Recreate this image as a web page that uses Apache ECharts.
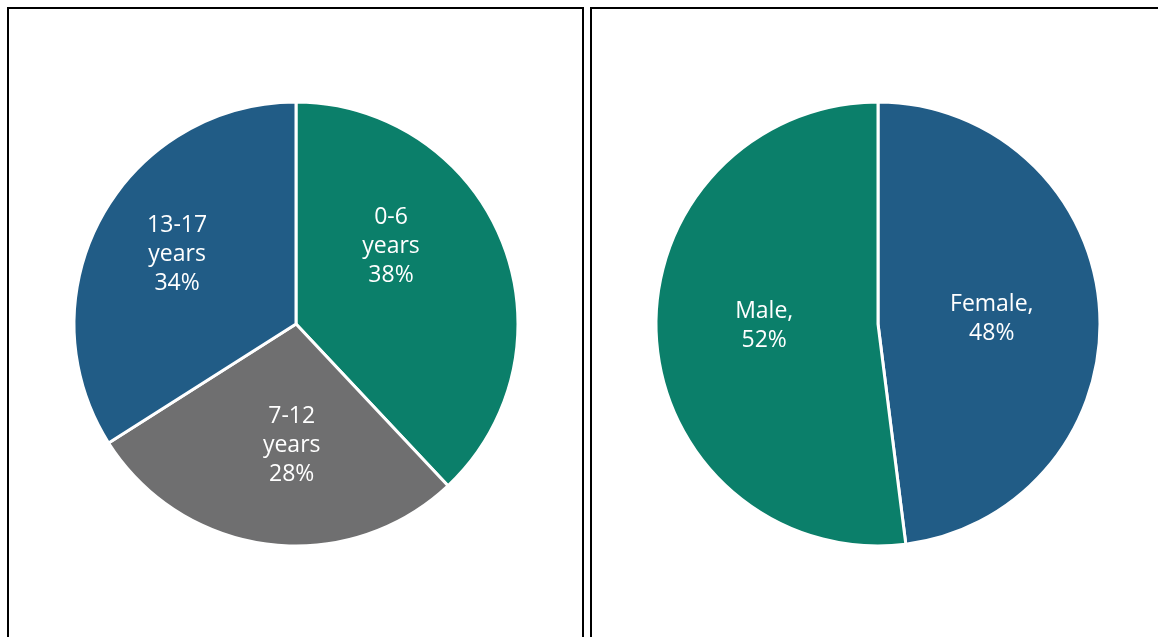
<!DOCTYPE html>
<html>
<head>
<meta charset="utf-8">
<script src="https://cdn.jsdelivr.net/npm/echarts@6/dist/echarts.min.js"></script>
<style>
  html, body { margin: 0; padding: 0; background: #fff; }
  #chart { width: 1158px; height: 637px; }
</style>
</head>
<body>
<div id="chart"></div>
<script>
// age groups (left pie)
const ageNames = ['0-6\nyears', '7-12\nyears', '13-17\nyears'];
const ageValues = [38, 28, 34];
const ageColors = ['#0b7f6a', '#6f6f70', '#215c86'];
const ageLabelOffsets = [[-11, -36], [10, 8], [-19, -15]];

// gender (right pie)
const genderNames = ['Female,', 'Male,'];
const genderValues = [48, 52];
const genderColors = ['#215c86', '#0b7f6a'];
const genderLabelOffsets = [[0, 2], [0, -5]];

const chart = echarts.init(document.getElementById('chart'));

function buildData(names, values, colors, offsets) {
  return names.map(function (n, i) {
    return {
      name: n,
      value: values[i],
      itemStyle: {color: colors[i]},
      label: {offset: offsets[i]}
    };
  });
}

const labelStyle = {
  show: true,
  position: 'inside',
  color: '#fff',
  fontFamily: 'Open Sans',
  fontSize: 23,
  lineHeight: 29,
  align: 'center',
  formatter: function (p) {
    return p.name + '\n' + p.value + '%';
  }
};

chart.setOption({
  animation: false,
  backgroundColor: '#fff',
  graphic: [
    {
      type: 'rect',
      shape: {x: 8, y: 8, width: 575, height: 700},
      style: {fill: 'none', stroke: '#000', lineWidth: 2}
    },
    {
      type: 'rect',
      shape: {x: 591, y: 8, width: 620, height: 700},
      style: {fill: 'none', stroke: '#000', lineWidth: 2}
    }
  ],
  series: [
    {
      type: 'pie',
      center: [296, 324],
      radius: [0, 222],
      startAngle: 90,
      clockwise: true,
      itemStyle: {borderColor: '#fff', borderWidth: 3},
      label: labelStyle,
      labelLine: {show: false},
      emphasis: {disabled: true},
      data: buildData(ageNames, ageValues, ageColors, ageLabelOffsets)
    },
    {
      type: 'pie',
      center: [878, 324],
      radius: [0, 222],
      startAngle: 90,
      clockwise: true,
      itemStyle: {borderColor: '#fff', borderWidth: 3},
      label: labelStyle,
      labelLine: {show: false},
      emphasis: {disabled: true},
      data: buildData(genderNames, genderValues, genderColors, genderLabelOffsets)
    }
  ]
});
</script>
</body>
</html>
